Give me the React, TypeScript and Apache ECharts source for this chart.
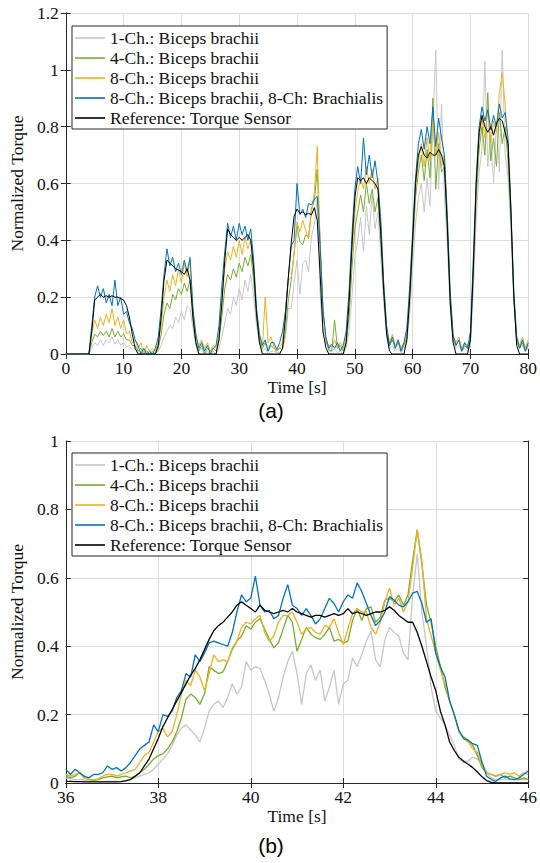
import React, { useEffect, useRef } from "react";
import * as echarts from "echarts";

// ---------- Panel (a): 0–80 s, sampled every 0.5 s ----------
const refA = [
  0, 0, 0, 0, 0, 0, 0, 0, 0, 0.08,
  0.19, 0.2, 0.21, 0.2, 0.205, 0.2, 0.205, 0.2, 0.2, 0.195,
  0.19, 0.17, 0.13, 0.07, 0.02, 0, 0, 0, 0, 0,
  0, 0, 0.03, 0.13, 0.26, 0.33, 0.32, 0.31, 0.3, 0.295,
  0.29, 0.28, 0.3, 0.26, 0.13, 0.04, 0, 0, 0, 0,
  0, 0, 0, 0.05, 0.18, 0.33, 0.44, 0.42, 0.41, 0.4,
  0.41, 0.4, 0.41, 0.42, 0.4, 0.3, 0.14, 0.04, 0, 0,
  0, 0, 0, 0, 0, 0.02, 0.13, 0.27, 0.39, 0.485,
  0.51, 0.495, 0.5, 0.49, 0.495, 0.49, 0.515, 0.47, 0.28, 0.078,
  0.022, 0, 0, 0, 0, 0, 0, 0.04, 0.18, 0.38,
  0.55, 0.62, 0.61, 0.62, 0.6, 0.62, 0.61, 0.6, 0.58, 0.42,
  0.22, 0.07, 0.01, 0, 0, 0, 0, 0, 0.05, 0.2,
  0.4, 0.6, 0.7, 0.73, 0.7, 0.69, 0.71, 0.7, 0.7, 0.72,
  0.7, 0.66, 0.45, 0.18, 0.04, 0, 0, 0, 0, 0,
  0.05, 0.3, 0.6, 0.78, 0.84, 0.8, 0.78, 0.8, 0.77, 0.81,
  0.83, 0.82, 0.78, 0.74, 0.5, 0.2, 0.03, 0, 0, 0, 0,
];
const blueA = [
  0, 0, 0, 0, 0, 0, 0, 0, 0, 0.1,
  0.2, 0.24, 0.2, 0.23, 0.18, 0.21, 0.17, 0.26, 0.17, 0.2,
  0.14, 0.15, 0.11, 0.09, 0.05, 0.03, 0, 0.02, 0, 0.01,
  0, 0.02, 0.06, 0.16, 0.28, 0.37, 0.31, 0.34, 0.29, 0.32,
  0.28, 0.33, 0.29, 0.34, 0.16, 0.07, 0.02, 0.04, 0.01, 0.03,
  0, 0.02, 0.03, 0.1, 0.24, 0.36, 0.46, 0.41, 0.45, 0.4,
  0.46, 0.42, 0.45, 0.4, 0.44, 0.33, 0.16, 0.07, 0.03, 0.05,
  0.01, 0.04, 0.04, 0.015, 0.04, 0.08, 0.15, 0.27, 0.38, 0.4,
  0.6, 0.49, 0.51, 0.48, 0.53, 0.525, 0.545, 0.555, 0.38, 0.155,
  0.06, 0.02, 0.035, 0.02, 0.04, 0.01, 0.03, 0.08, 0.22, 0.42,
  0.58, 0.66, 0.6, 0.76, 0.63, 0.7, 0.62, 0.68, 0.6, 0.47,
  0.25, 0.1, 0.03, 0.06, 0.02, 0.05, 0.01, 0.04, 0.09, 0.24,
  0.43, 0.62, 0.74, 0.79, 0.72, 0.8, 0.74, 0.87, 0.73, 0.83,
  0.76, 0.7, 0.49, 0.22, 0.07, 0.03, 0.05, 0.01, 0.04, 0.02,
  0.08, 0.34, 0.62, 0.8, 0.87, 0.82, 0.86, 0.79, 0.84, 0.8,
  0.88, 0.83, 0.85, 0.76, 0.52, 0.22, 0.06, 0.02, 0.05, 0.01, 0.04,
];
const yellowA = [
  0, 0, 0, 0, 0, 0, 0, 0, 0, 0.07,
  0.12, 0.09, 0.13, 0.1, 0.14, 0.11, 0.16, 0.1, 0.13, 0.09,
  0.12, 0.07, 0.08, 0.04, 0.05, 0.02, 0.04, 0, 0.03, 0.01,
  0.02, 0.01, 0.04, 0.1, 0.2, 0.26, 0.22, 0.28, 0.24, 0.3,
  0.25, 0.32, 0.27, 0.33, 0.15, 0.06, 0.03, 0.05, 0.02, 0.04,
  0.01, 0.03, 0.02, 0.07, 0.18, 0.3, 0.36, 0.33, 0.38, 0.34,
  0.4, 0.35, 0.41, 0.37, 0.4, 0.3, 0.15, 0.07, 0.02, 0.2,
  0.04, 0.06, 0.025, 0.01, 0.025, 0.04, 0.15, 0.26, 0.27, 0.355,
  0.465, 0.43, 0.47, 0.435, 0.405, 0.5, 0.57, 0.73, 0.38, 0.15,
  0.05, 0.03, 0.025, 0.05, 0.02, 0.04, 0.02, 0.06, 0.17, 0.36,
  0.5, 0.57, 0.62, 0.58, 0.66, 0.6, 0.65, 0.58, 0.62, 0.45,
  0.24, 0.09, 0.04, 0.07, 0.03, 0.05, 0.02, 0.04, 0.07, 0.21,
  0.4, 0.58, 0.68, 0.74, 0.66, 0.76, 0.68, 0.82, 0.7, 0.78,
  0.66, 0.7, 0.47, 0.2, 0.06, 0.04, 0.06, 0.02, 0.04, 0.03,
  0.06, 0.3, 0.58, 0.76, 0.83, 0.76, 0.86, 0.74, 0.82, 0.78,
  0.92, 0.99, 0.88, 0.72, 0.5, 0.21, 0.06, 0.03, 0.06, 0.02, 0.05,
];
const greenA = [
  0, 0, 0, 0, 0, 0, 0, 0, 0, 0.04,
  0.07, 0.06, 0.08, 0.065, 0.08, 0.06, 0.09, 0.06, 0.08, 0.06,
  0.07, 0.05, 0.05, 0.03, 0.03, 0.01, 0.02, 0, 0.01, 0,
  0.01, 0, 0.02, 0.07, 0.14, 0.18, 0.16, 0.21, 0.19, 0.23,
  0.21, 0.25, 0.22, 0.26, 0.12, 0.04, 0.01, 0.03, 0, 0.02,
  0.01, 0.02, 0.01, 0.05, 0.13, 0.23, 0.28, 0.26, 0.3, 0.27,
  0.32, 0.29, 0.34, 0.31, 0.35, 0.26, 0.13, 0.05, 0.02, 0.04,
  0.01, 0.03, 0.02, 0.01, 0.02, 0.02, 0.08, 0.19, 0.26, 0.355,
  0.45, 0.395, 0.385, 0.42, 0.41, 0.51, 0.54, 0.65, 0.4, 0.15,
  0.045, 0.015, 0.01, 0.12, 0.02, 0.03, 0.01, 0.04, 0.13, 0.3,
  0.44, 0.5, 0.56, 0.5, 0.6, 0.53, 0.58, 0.5, 0.55, 0.4,
  0.22, 0.08, 0.03, 0.05, 0.02, 0.04, 0.01, 0.03, 0.06, 0.19,
  0.37, 0.55, 0.64, 0.7, 0.61, 0.72, 0.62, 0.9, 0.58, 0.74,
  0.64, 0.66, 0.44, 0.19, 0.05, 0.03, 0.05, 0.01, 0.03, 0.02,
  0.05, 0.28, 0.55, 0.72, 0.8, 0.7, 0.92, 0.68, 0.76, 0.66,
  0.85, 0.74, 0.8, 0.68, 0.48, 0.2, 0.05, 0.02, 0.04, 0.01, 0.03,
];
const grayA = [
  0, 0, 0, 0, 0, 0, 0, 0, 0, 0.02,
  0.04, 0.03, 0.05, 0.03, 0.05, 0.04, 0.06, 0.035, 0.05, 0.03,
  0.04, 0.025, 0.03, 0.015, 0.02, 0.005, 0.01, 0, 0, 0.005,
  0, 0.005, 0.01, 0.03, 0.06, 0.08, 0.1, 0.09, 0.13, 0.11,
  0.15, 0.12, 0.17, 0.16, 0.09, 0.03, 0.01, 0.02, 0, 0.01,
  0, 0.01, 0, 0.02, 0.06, 0.11, 0.16, 0.14, 0.2, 0.17,
  0.23, 0.19, 0.26, 0.22, 0.28, 0.2, 0.1, 0.04, 0.01, 0.02,
  0, 0.01, 0.01, 0.005, 0.005, 0.015, 0.055, 0.16, 0.16, 0.25,
  0.33, 0.21, 0.32, 0.33, 0.29, 0.415, 0.455, 0.55, 0.21, 0.07,
  0.06, 0.01, 0.01, 0.02, 0.005, 0.01, 0, 0.02, 0.08, 0.2,
  0.34, 0.4, 0.48, 0.36, 0.52, 0.42, 0.56, 0.44, 0.5, 0.34,
  0.18, 0.06, 0.02, 0.03, 0.01, 0.02, 0.005, 0.02, 0.04, 0.14,
  0.3, 0.46, 0.55, 0.6, 0.5, 0.62, 0.52, 0.8, 1.07, 0.58,
  0.88, 0.56, 0.38, 0.16, 0.04, 0.02, 0.03, 0.01, 0.02, 0.01,
  0.03, 0.22, 0.48, 0.64, 0.72, 1.03, 0.66, 0.78, 0.6, 0.82,
  0.64, 1.07, 0.7, 0.62, 0.44, 0.18, 0.04, 0.02, 0.03, 0.01, 0.02,
];

// ---------- Panel (b): 36–46 s, sampled every 0.1 s ----------
const refB = [
  0.005, 0.005, 0.004, 0.004, 0.003, 0.003, 0.003, 0.003, 0.003, 0.003,
  0.003, 0.003, 0.004, 0.006, 0.01, 0.02, 0.03, 0.05, 0.07, 0.1,
  0.13, 0.165, 0.19, 0.215, 0.24, 0.265, 0.29, 0.315, 0.335, 0.36,
  0.39, 0.42, 0.445, 0.46, 0.47, 0.485, 0.5, 0.52, 0.53, 0.52,
  0.51, 0.5, 0.52, 0.505, 0.5, 0.495, 0.5, 0.505, 0.5, 0.51,
  0.5, 0.495, 0.49, 0.485, 0.49, 0.49, 0.485, 0.49, 0.495, 0.49,
  0.495, 0.51, 0.495, 0.5, 0.495, 0.49, 0.495, 0.5, 0.5, 0.505,
  0.515, 0.505, 0.49, 0.48, 0.47, 0.47, 0.44, 0.4, 0.355, 0.31,
  0.27, 0.21, 0.17, 0.12, 0.095, 0.075, 0.064, 0.055, 0.045, 0.032,
  0.018, 0.007, 0.002, 0, 0, 0, 0, 0, 0, 0,
  0,
];
const blueB = [
  0.04, 0.025, 0.04, 0.03, 0.02, 0.015, 0.025, 0.025, 0.03, 0.05,
  0.04, 0.045, 0.035, 0.045, 0.06, 0.08, 0.1, 0.11, 0.12, 0.17,
  0.15, 0.2, 0.195, 0.21, 0.25, 0.27, 0.32, 0.31, 0.375, 0.355,
  0.38, 0.41, 0.415, 0.41, 0.405, 0.4, 0.44, 0.5, 0.55, 0.53,
  0.54, 0.605, 0.52, 0.5, 0.505, 0.48, 0.49, 0.54, 0.58, 0.52,
  0.51, 0.49, 0.51, 0.49, 0.465, 0.48, 0.51, 0.54, 0.525, 0.5,
  0.53, 0.55, 0.54, 0.585, 0.56, 0.525, 0.49, 0.46, 0.475, 0.5,
  0.545, 0.535, 0.52, 0.515, 0.53, 0.555, 0.56, 0.525, 0.47, 0.48,
  0.38, 0.34, 0.31, 0.24, 0.2, 0.155, 0.13, 0.125, 0.115, 0.11,
  0.06, 0.02, 0.01, 0.005, 0.015, 0.02, 0.012, 0.01, 0.015, 0.025,
  0.035,
];
const yellowB = [
  0.025, 0.02, 0.025, 0.03, 0.015, 0.01, 0.01, 0.012, 0.02, 0.025,
  0.025, 0.02, 0.025, 0.03, 0.035, 0.04, 0.06, 0.08, 0.09, 0.12,
  0.15, 0.16, 0.135, 0.15, 0.2, 0.26, 0.3, 0.285, 0.33, 0.31,
  0.27, 0.32, 0.375, 0.355, 0.36, 0.355, 0.395, 0.415, 0.455, 0.47,
  0.465, 0.48, 0.49, 0.44, 0.415, 0.43, 0.47, 0.49, 0.49, 0.5,
  0.47, 0.435, 0.45, 0.455, 0.44, 0.435, 0.46, 0.455, 0.48, 0.44,
  0.405, 0.45, 0.495, 0.51, 0.5, 0.5, 0.455, 0.435, 0.47, 0.53,
  0.57, 0.52, 0.54, 0.5, 0.53, 0.63, 0.74, 0.65, 0.48, 0.43,
  0.38, 0.33, 0.29, 0.24, 0.2, 0.15, 0.13, 0.12, 0.1, 0.09,
  0.05, 0.03, 0.025, 0.02, 0.025, 0.03, 0.025, 0.03, 0.02, 0.03,
  0.025,
];
const greenB = [
  0.02, 0.015, 0.02, 0.03, 0.015, 0.01, 0.008, 0.01, 0.015, 0.018,
  0.02, 0.015, 0.018, 0.02, 0.015, 0.02, 0.03, 0.04, 0.055, 0.07,
  0.08, 0.085, 0.1, 0.12, 0.15, 0.19, 0.245, 0.26, 0.25, 0.23,
  0.26, 0.34, 0.33, 0.32, 0.325, 0.355, 0.39, 0.415, 0.43, 0.46,
  0.45, 0.47, 0.48, 0.45, 0.42, 0.395, 0.41, 0.45, 0.49, 0.47,
  0.385, 0.42, 0.455, 0.435, 0.425, 0.42, 0.435, 0.455, 0.415, 0.42,
  0.41, 0.415, 0.475, 0.51, 0.475, 0.51, 0.515, 0.47, 0.485, 0.535,
  0.54, 0.53, 0.55, 0.52, 0.55, 0.65, 0.74, 0.64, 0.52, 0.47,
  0.4, 0.34, 0.28, 0.24, 0.2, 0.15, 0.135, 0.125, 0.11, 0.08,
  0.045, 0.03, 0.025, 0.02, 0.025, 0.015, 0.02, 0.015, 0.01, 0.015,
  0.01,
];
const grayB = [
  0.015, 0.012, 0.01, 0.01, 0.008, 0.005, 0.005, 0.005, 0.005, 0.005,
  0.005, 0.005, 0.005, 0.008, 0.01, 0.015, 0.02, 0.025, 0.03, 0.04,
  0.055, 0.07, 0.085, 0.11, 0.14, 0.16, 0.17, 0.155, 0.14, 0.12,
  0.16, 0.21, 0.23, 0.24, 0.22, 0.25, 0.29, 0.26, 0.28, 0.355,
  0.33, 0.34, 0.335, 0.3, 0.26, 0.21, 0.25, 0.31, 0.355, 0.385,
  0.32, 0.23, 0.32, 0.345, 0.3, 0.33, 0.24, 0.28, 0.33, 0.23,
  0.29, 0.3, 0.365, 0.34, 0.375, 0.415, 0.445, 0.36, 0.34, 0.42,
  0.455, 0.44, 0.43, 0.38, 0.36, 0.55, 0.67, 0.5, 0.4, 0.28,
  0.21, 0.19, 0.17, 0.14, 0.11, 0.07, 0.06, 0.065, 0.075, 0.07,
  0.06, 0.03, 0.015, 0.01, 0.01, 0.01, 0.01, 0.01, 0.01, 0.01,
  0.01,
];

const timesA = refA.map((_, i) => i * 0.5);
const timesB = refB.map((_, i) => Math.round((36 + i * 0.1) * 10) / 10);

const NAMES = [
  "1-Ch.: Biceps brachii",
  "4-Ch.: Biceps brachii",
  "8-Ch.: Biceps brachii",
  "8-Ch.: Biceps brachii, 8-Ch: Brachialis",
  "Reference: Torque Sensor",
];
const COLORS = ["#c6c6c6", "#77ac30", "#edb120", "#0072bd", "#000000"];

const SERIF = "Liberation Serif";
const AX = "#262626";
const FS = 17.5;

export default function App() {
  const ref = useRef<HTMLDivElement>(null);
  useEffect(() => {
    if (!ref.current) return;
    const chart = echarts.init(ref.current, null, { renderer: "svg" });

    const pair = (ts: number[], vs: number[]) => vs.map((v, i) => [ts[i], v]);
    const seriesA = [grayA, greenA, yellowA, blueA, refA];
    const seriesB = [grayB, greenB, yellowB, blueB, refB];
    const tickRich = { t: { fontFamily: SERIF, fontSize: FS, color: "#111" } };

    const mkX = (grid: number, min: number, max: number, interval: number, top: boolean) => ({
      type: "value",
      gridIndex: grid,
      min,
      max,
      interval,
      position: top ? "top" : "bottom",
      axisLine: { show: true, lineStyle: { color: AX, width: 1 } },
      axisTick: { show: true, inside: true, length: 5, lineStyle: { color: AX } },
      axisLabel: {
        show: !top,
        fontFamily: SERIF,
        fontSize: FS,
        color: "#111",
        margin: 5,
        formatter: (v: number) => "{t|" + String(v) + "}",
        rich: tickRich,
      },
      splitLine: { show: !top, lineStyle: { color: "#dedede", width: 1 } },
      name: top ? "" : "Time [s]",
      nameLocation: "middle",
      nameGap: 23,
      nameTextStyle: { fontFamily: SERIF, fontSize: FS, color: "#111" },
    });
    const mkY = (grid: number, max: number, right: boolean) => ({
      type: "value",
      gridIndex: grid,
      min: 0,
      max,
      interval: 0.2,
      position: right ? "right" : "left",
      axisLine: { show: true, lineStyle: { color: AX, width: 1 } },
      axisTick: { show: true, inside: true, length: 5, lineStyle: { color: AX } },
      axisLabel: {
        show: !right,
        fontFamily: SERIF,
        fontSize: FS,
        color: "#111",
        margin: 7,
        formatter: (v: number) => "{t|" + String(Math.round(v * 10) / 10) + "}",
        rich: tickRich,
      },
      splitLine: { show: !right, lineStyle: { color: "#dedede", width: 1 } },
      name: right ? "" : "Normalized Torque",
      nameLocation: "middle",
      nameGap: 34,
      nameTextStyle: { fontFamily: SERIF, fontSize: FS, color: "#111" },
    });

    const mkLegend = (top: number) => ({
      orient: "vertical",
      left: 72,
      top,
      data: NAMES.map((n) => ({ name: n, icon: "rect" })),
      selectedMode: false,
      itemWidth: 30,
      itemHeight: 1.6,
      itemGap: 0,
      padding: [2, 4, 1, 3],
      backgroundColor: "#ffffff",
      borderColor: AX,
      borderWidth: 1,
      textStyle: { fontFamily: SERIF, fontSize: FS, color: "#111", lineHeight: 20 },
    });

    const lines: any[] = [];
    seriesA.forEach((vals, k) => {
      lines.push({
        type: "line",
        name: NAMES[k],
        xAxisIndex: 0,
        yAxisIndex: 0,
        data: pair(timesA, vals),
        symbol: "none",
        lineStyle: { color: COLORS[k], width: 1 },
        itemStyle: { color: COLORS[k] },
        z: 2 + k,
      });
    });
    seriesB.forEach((vals, k) => {
      lines.push({
        type: "line",
        name: NAMES[k],
        xAxisIndex: 2,
        yAxisIndex: 2,
        data: pair(timesB, vals),
        symbol: "none",
        lineStyle: { color: COLORS[k], width: 1.3 },
        itemStyle: { color: COLORS[k] },
        z: 2 + k,
      });
    });

    const label = (text: string, y: number) => ({
      type: "text",
      x: 271,
      y,
      style: {
        text,
        font: '21px "Liberation Sans", Arial, sans-serif',
        fill: "#000",
        textAlign: "center",
        textVerticalAlign: "middle",
        align: "center",
        verticalAlign: "middle",
      },
    });

    chart.setOption({
      animation: false,
      backgroundColor: "#ffffff",
      textStyle: { fontFamily: SERIF },
      grid: [
        { left: 61, top: 13, width: 472, height: 341, containLabel: false },
        { left: 61, top: 441, width: 472, height: 342, containLabel: false },
      ],
      xAxis: [
        mkX(0, 0, 80, 10, false),
        mkX(0, 0, 80, 10, true),
        mkX(1, 36, 46, 2, false),
        mkX(1, 36, 46, 2, true),
      ],
      yAxis: [mkY(0, 1.2, false), mkY(0, 1.2, true), mkY(1, 1, false), mkY(1, 1, true)],
      legend: [mkLegend(26), mkLegend(453)],
      series: lines,
      graphic: [label("(a)", 410), label("(b)", 845)],
    });
    return () => chart.dispose();
  }, []);

  return (
    <div
      ref={ref}
      style={{ position: "fixed", left: 0, top: 0, width: 540, height: 863, background: "#fff" }}
    />
  );
}
